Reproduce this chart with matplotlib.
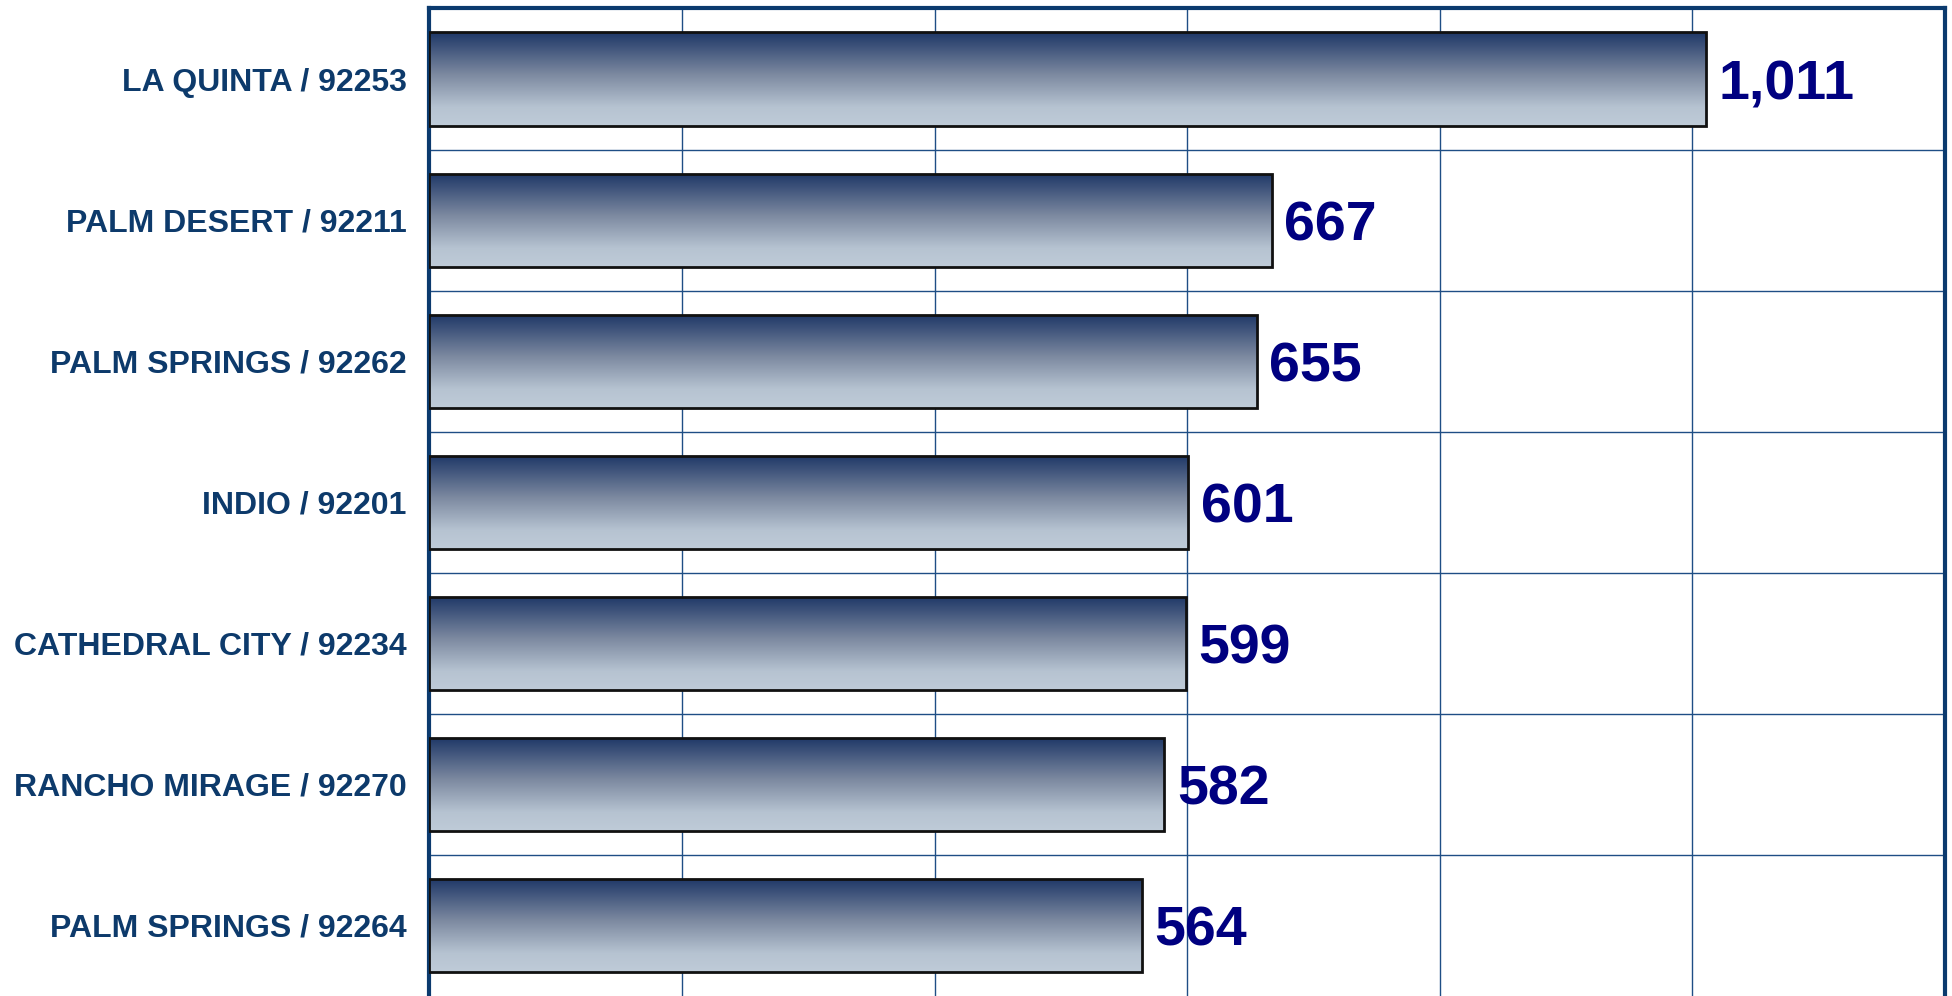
import numpy as np
import matplotlib
matplotlib.use("Agg")
import matplotlib.pyplot as plt
from matplotlib.colors import LinearSegmentedColormap

categories = ["LA QUINTA / 92253", "PALM DESERT / 92211", "PALM SPRINGS / 92262",
              "INDIO / 92201", "CATHEDRAL CITY / 92234", "RANCHO MIRAGE / 92270",
              "PALM SPRINGS / 92264"]
values = [1011, 667, 655, 601, 599, 582, 564]

plt.rcParams['font.family'] = ['Liberation Sans', 'DejaVu Sans']

fig = plt.figure(figsize=(19.52, 9.96), dpi=100)
ax = fig.add_axes([0.2200, 0.0, 0.9964 - 0.2200, 0.9915])

frame_color = "#0B3A6E"
grid_color = "#1F4E85"

cmap = LinearSegmentedColormap.from_list(
    "barg", [(0.0, "#1E3767"), (0.45, "#7C89A0"), (0.8, "#B6C3D1"), (1.0, "#BFCBD8")])
grad = np.linspace(0, 1, 256).reshape(-1, 1)

y = np.arange(len(categories))
h = 0.66
bars = ax.barh(y, values, height=h, facecolor="none", edgecolor="#111111",
               linewidth=2.0, zorder=4)
for b, v, yi in zip(bars, values, y):
    im = ax.imshow(grad, cmap=cmap, aspect="auto",
                   extent=(0, v, yi + h / 2, yi - h / 2), zorder=3,
                   interpolation="bilinear")
    im.set_clip_path(b)
    ax.annotate(f"{v:,}", xy=(v, yi), xytext=(9, 0), textcoords="offset points",
                ha="left", va="center_baseline", fontsize=40, fontweight="bold",
                color="#000080", zorder=5)

ax.set_xlim(0, 1200)
ax.set_ylim(len(categories) - 0.5, -0.5)
ax.set_xticks(np.arange(0, 1201, 200))
ax.set_yticks(np.arange(0.5, len(categories) - 1, 1.0), minor=False)
ax.set_yticks(y, minor=True)
ax.set_yticklabels([], minor=False)
ax.set_yticklabels(categories, minor=True, fontsize=23, fontweight="bold",
                   color="#0D3A6B")
ax.tick_params(axis="y", which="both", length=0, pad=16.5)
ax.tick_params(axis="x", which="both", length=0, labelbottom=False)
ax.grid(True, which="major", color=grid_color, linewidth=1.0, zorder=1)
ax.set_axisbelow(True)

for s in ["top", "left", "right"]:
    ax.spines[s].set_color(frame_color)
    ax.spines[s].set_linewidth(3.0)
ax.spines["bottom"].set_visible(False)

fig.savefig("out.png", dpi=100)
